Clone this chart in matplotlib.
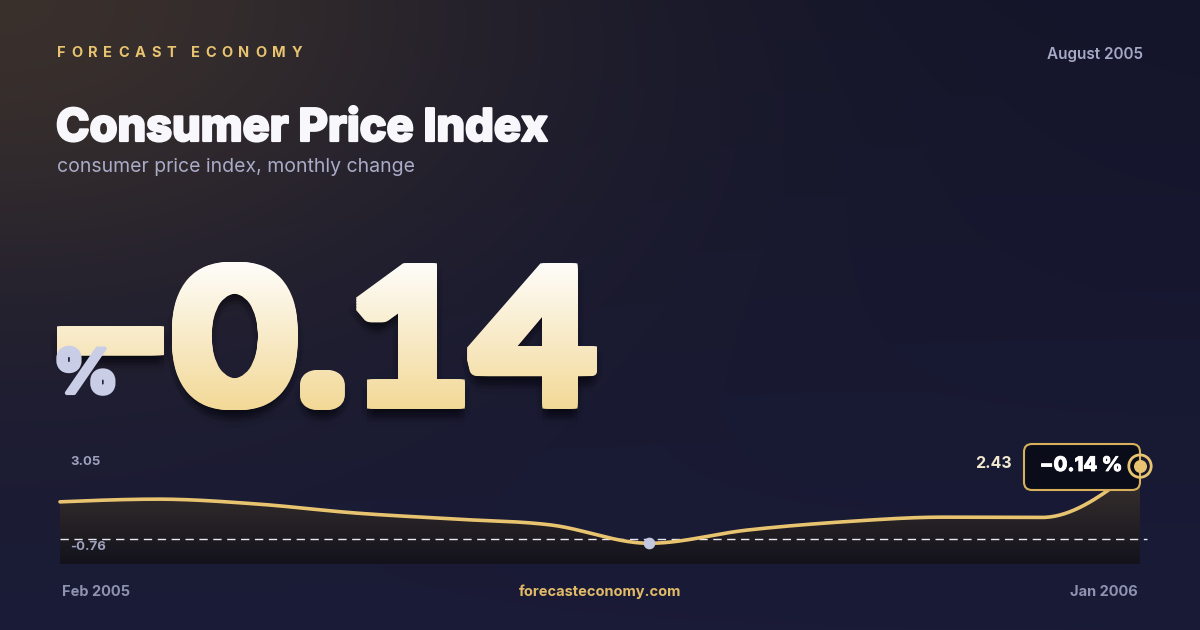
import numpy as np
import matplotlib
matplotlib.use("Agg")
import matplotlib.pyplot as plt
import matplotlib.patheffects as pe
from matplotlib.font_manager import FontProperties
from matplotlib.textpath import TextPath
from matplotlib.patches import PathPatch, Polygon, FancyBboxPatch
from matplotlib.transforms import Affine2D

plt.rcParams['font.family'] = ['Inter', 'DejaVu Sans']

# ---- data ----
months = ['Feb 2005', 'Mar 2005', 'Apr 2005', 'May 2005', 'Jun 2005', 'Jul 2005',
          'Aug 2005', 'Sep 2005', 'Oct 2005', 'Nov 2005', 'Dec 2005', 'Jan 2006']
cpi_change = [1.24, 1.33, 1.17, 0.87, 0.67, 0.47, -0.14, 0.30, 0.58, 0.73, 0.72, 2.43]
current_month = 'August 2005'
current_value = -0.14
axis_max = 3.05
axis_min = -0.76

brand = 'FORECAST ECONOMY'
title = 'Consumer Price Index'
subtitle = 'consumer price index, monthly change'
site = 'forecasteconomy.com'

GOLD = '#e8c470'
GREY = '#9ea1bd'
W, H = 1200, 630


def Y(y):
    # image row (from top) -> bg axes coordinate (from bottom)
    return H - y


def monotone_curve(x, y, n=40):
    """d3 curveMonotoneX style interpolation"""
    x = np.asarray(x, float)
    y = np.asarray(y, float)
    h = np.diff(x)
    s = np.diff(y) / h
    m = np.zeros_like(y)
    for i in range(1, len(y) - 1):
        p = (s[i - 1] * h[i] + s[i] * h[i - 1]) / (h[i - 1] + h[i])
        m[i] = (np.sign(s[i - 1]) + np.sign(s[i])) * min(abs(s[i - 1]), abs(s[i]), 0.5 * abs(p))
    m[0] = (3 * s[0] - m[1]) / 2
    m[-1] = (3 * s[-1] - m[-2]) / 2
    xs, ys = [], []
    for i in range(len(h)):
        t = np.linspace(0, 1, n, endpoint=(i == len(h) - 1))
        h00 = 2 * t**3 - 3 * t**2 + 1
        h10 = t**3 - 2 * t**2 + t
        h01 = -2 * t**3 + 3 * t**2
        h11 = t**3 - t**2
        xs.append(x[i] + t * h[i])
        ys.append(h00 * y[i] + h10 * h[i] * m[i] + h01 * y[i + 1] + h11 * h[i] * m[i + 1])
    return np.concatenate(xs), np.concatenate(ys)


fig = plt.figure(figsize=(12, 6.3), dpi=100)

# ---- background ----
bg = fig.add_axes([0, 0, 1, 1])
bg.axis('off')

yy, xx = np.mgrid[0:H, 0:W]
top = np.array([0x14, 0x15, 0x2a]) / 255
bot = np.array([0x1a, 0x1b, 0x37]) / 255
glow = np.array([0x40, 0x35, 0x2d]) / 255
f = (yy / H)[..., None]
img = top * (1 - f) + bot * f
w = (0.85 * np.exp(-((xx / 540.0) ** 2 + (yy / 320.0) ** 2)))[..., None]
img = img * (1 - w) + glow * w
bg.imshow(img, extent=[0, W, 0, H], origin='upper', aspect='auto', zorder=0)
bg.set_xlim(0, W)
bg.set_ylim(0, H)

renderer = fig.canvas.get_renderer()

# ---- header ----
hdr_fp = dict(fontsize=10.5, fontweight='bold', color=GOLD, va='center')
widths = []
for ch in brand:
    t = bg.text(0, 0, ch, **hdr_fp)
    widths.append(t.get_window_extent(renderer).width)
    t.remove()
gap = (245 - sum(widths)) / (len(brand) - 1)
cx = 57
for ch, cw in zip(brand, widths):
    bg.text(cx, Y(53), ch, ha='left', **hdr_fp)
    cx += cw + gap

bg.text(1143, Y(54), current_month, ha='right', va='center', fontsize=11,
        fontweight='semibold', color='#a6a9c6')
bg.text(56, Y(141), title, ha='left', va='baseline', fontsize=32.5,
        fontweight='heavy', color='#f8f8fc',
        path_effects=[pe.withStroke(linewidth=1.6, foreground='#f8f8fc')])
bg.text(57, Y(167), subtitle, ha='left', va='center', fontsize=14,
        color='#a9abc7')

# ---- big number with vertical gradient ----
big = TextPath((0, 0), '\u2212' + f'{abs(current_value):.2f}', size=200,
               prop=FontProperties(family='Lato', weight='bold'))
ext = big.get_extents()
# fit the glyphs into the box they take in the reference, leaving room for the
# extra weight added below
r = 6.0
bl, br, bt, bb = 57 + r, 597 - r, 262 + r, 410 - r
sx = (br - bl) / ext.width
sy = (bb - bt) / ext.height
big = Affine2D().translate(-ext.x0, -ext.y0).scale(sx, sy).translate(bl, Y(bb)).transform_path(big)
bx = big.get_extents()

# square kernel (its outline, fine steps) keeps the corners sharp
steps = np.linspace(-r, r, 9)
offsets = [(0.0, 0.0)] + [(dx, dy) for dx in steps for dy in steps
                          if abs(dx) == r or abs(dy) == r]

for dx, dy, a in [(0, -8, 0.07), (4, -10, 0.05), (-4, -10, 0.05), (0, -13, 0.05),
                  (6, -6, 0.04), (-6, -6, 0.04), (0, -4, 0.06), (0, -18, 0.03)]:
    sh = Affine2D().translate(dx, dy).transform_path(big)
    bg.add_patch(PathPatch(sh, facecolor='black', edgecolor='black', lw=2 * r * 0.72,
                           alpha=a, zorder=2))

c_top = np.array([0xfe, 0xfd, 0xfa]) / 255
c_bot = np.array([0xf3, 0xd9, 0x97]) / 255
g = np.linspace(0, 1, 256)[:, None, None]
grad = np.repeat(c_top * (1 - g) + c_bot * g, 2, axis=1)
for dx, dy in offsets:
    pth = Affine2D().translate(dx, dy).transform_path(big)
    clip = PathPatch(pth, facecolor='none', edgecolor='none', transform=bg.transData)
    bg.add_patch(clip)
    gim = bg.imshow(grad, extent=[bx.x0 - r, bx.x1 + r, bx.y0 - r, bx.y1 + r], origin='upper',
                    aspect='auto', zorder=3, interpolation='bilinear')
    gim.set_clip_path(clip)
bg.set_xlim(0, W)
bg.set_ylim(0, H)

bg.text(54, Y(393), '%', ha='left', va='baseline', fontsize=44, fontweight='black',
        color='#c9cde6', zorder=4,
        path_effects=[pe.withStroke(linewidth=3, foreground='#c9cde6')])

# ---- sparkline ----
ax_top, ax_bot = 447.5, 564
ax = fig.add_axes([60 / W, (H - ax_bot) / H, 1080 / W, (ax_bot - ax_top) / H])
ax.axis('off')
y_lo = axis_min - 0.07
ax.set_xlim(0, len(months) - 1)
ax.set_ylim(y_lo, axis_max)

xi = np.arange(len(months))
xs, ys = monotone_curve(xi, cpi_change)

verts = np.column_stack([np.r_[xs, xs[::-1]], np.r_[ys, np.full_like(ys, y_lo)]])
area = Polygon(verts, closed=True, facecolor='none', edgecolor='none', transform=ax.transData)
ax.add_patch(area)
f_top = np.array([0.24, 0.205, 0.19])
f_bot = np.array([0.075, 0.072, 0.11])
g2 = np.linspace(0, 1, 256)[:, None, None]
fgrad = np.repeat(f_top * (1 - g2) + f_bot * g2, 2, axis=1)
fim = ax.imshow(fgrad, extent=[0, len(months) - 1, y_lo, max(cpi_change)], origin='upper',
                aspect='auto', zorder=1)
fim.set_clip_path(area)
ax.set_xlim(0, len(months) - 1)
ax.set_ylim(y_lo, axis_max)

ax.hlines(0, 0, len(months) - 1 + 0.07, colors='#e8e8f0', lw=1, linestyles=(0, (6, 4)),
          zorder=2, clip_on=False)
ax.plot(xs, ys, color=GOLD, lw=2.6, solid_capstyle='round', zorder=3, clip_on=False)

i_min = months.index('Aug 2005')
ax.scatter([i_min], [cpi_change[i_min]], s=55, color='#c3c7df', zorder=4, clip_on=False)

px = bg.transData
ax.text(70, Y(462), f'{axis_max:.2f}', transform=px, ha='left', va='center',
        fontsize=9.5, fontweight='bold', color=GREY, zorder=5)
ax.text(70, Y(547), f'{axis_min:.2f}', transform=px, ha='left', va='center',
        fontsize=9.5, fontweight='bold', color=GREY, zorder=5)

# end-point callout
box = FancyBboxPatch((1024, Y(490)), 116, 46, boxstyle='round,pad=0,rounding_size=8',
                     transform=px, facecolor='#0b0c1a', edgecolor='#d8b05c', lw=1.5,
                     zorder=6, clip_on=False)
ax.add_patch(box)
ax.text(1081, Y(466), '\u2212' + f'{abs(current_value):.2f} %', transform=px,
        ha='center', va='center', fontsize=14.5, fontweight='heavy', color='white', zorder=7,
        path_effects=[pe.withStroke(linewidth=0.6, foreground='white')])
ax.text(1012, Y(463), f'{cpi_change[-1]:.2f}', transform=px, ha='right', va='center',
        fontsize=11.5, fontweight='bold', color='#f1e8d0', zorder=7)
ax.scatter([len(months) - 1], [cpi_change[-1]], s=260, facecolor='none', edgecolor=GOLD,
           lw=2, zorder=8, clip_on=False)
ax.scatter([len(months) - 1], [cpi_change[-1]], s=70, color=GOLD, zorder=8, clip_on=False)

# ---- footer ----
bg.text(62, Y(592), months[0], ha='left', va='center', fontsize=10.5,
        fontweight='bold', color='#8f92b0')
bg.text(1138, Y(592), months[-1], ha='right', va='center', fontsize=10.5,
        fontweight='bold', color='#8f92b0')
bg.text(600, Y(592), site, ha='center', va='center', fontsize=10.5,
        fontweight='bold', color='#e2bb68')

fig.savefig('out.png', dpi=100)
